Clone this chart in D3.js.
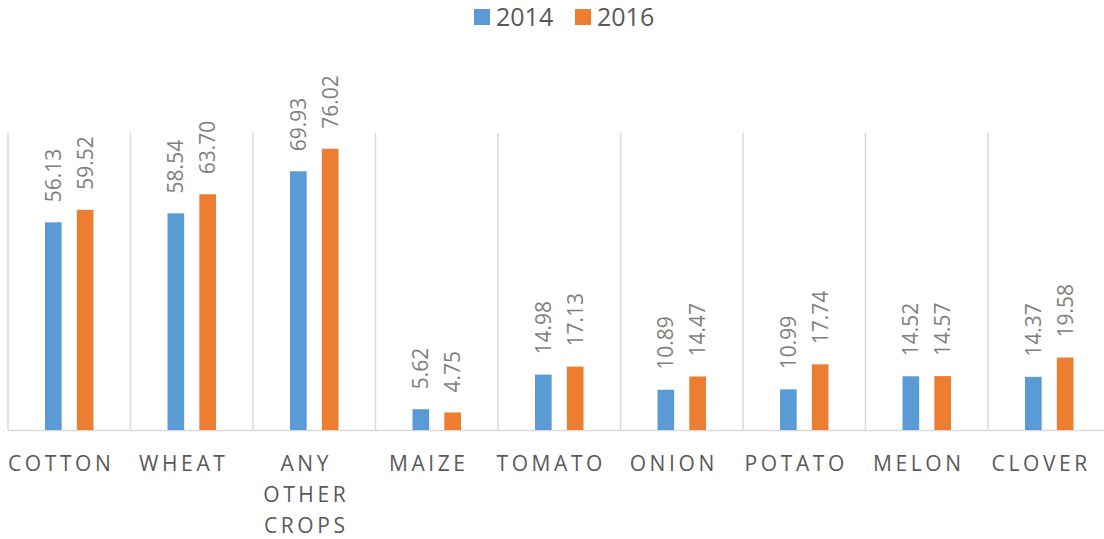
<!DOCTYPE html>
<html>
<head>
<meta charset="utf-8">
<script src="https://cdn.jsdelivr.net/npm/d3@7"></script>
<style>
  body { margin: 0; background: #fff; }
  text { font-family: "Open Sans", sans-serif; }
</style>
</head>
<body>
<div id="chart"></div>
<script>
const categories = ['COTTON', 'WHEAT', 'ANY OTHER CROPS', 'MAIZE', 'TOMATO', 'ONION', 'POTATO', 'MELON', 'CLOVER']
const seriesNames = ['2014', '2016']
const values2014 = [56.13, 58.54, 69.93, 5.62, 14.98, 10.89, 10.99, 14.52, 14.37]
const values2016 = [59.52, 63.70, 76.02, 4.75, 17.13, 14.47, 17.74, 14.57, 19.58]
const colors = ['#5b9bd5', '#ed7d31']

const width = 1104,
      height = 539,
      plotLeft = 8,
      plotRight = 1110.5,
      plotTop = 134,
      plotBottom = 430

const rows = categories.map((c, i) => ({ cat: c, vals: [values2014[i], values2016[i]] }))

const svg = d3.select('#chart')
  .append('svg')
  .attr('width', width)
  .attr('height', height)

const x0 = d3.scaleBand()
  .domain(categories)
  .range([plotLeft, plotRight])
  .padding(0)

const x1 = d3.scaleBand()
  .domain(seriesNames)
  .range([x0.bandwidth() / 2 - 24.25, x0.bandwidth() / 2 + 24.25])
  .paddingInner(0.476)

const y = d3.scaleLinear()
  .domain([0, 80])
  .range([plotBottom, plotTop])

// category separators
svg.append('g')
  .selectAll('line')
  .data(categories)
  .enter()
  .append('line')
  .attr('x1', d => x0(d))
  .attr('x2', d => x0(d))
  .attr('y1', plotTop - 1)
  .attr('y2', plotBottom)
  .attr('stroke', '#d9d9d9')
  .attr('stroke-width', 1.5)

// baseline
svg.append('line')
  .attr('x1', plotLeft)
  .attr('x2', width)
  .attr('y1', plotBottom + 0.5)
  .attr('y2', plotBottom + 0.5)
  .attr('stroke', '#d9d9d9')
  .attr('stroke-width', 1.5)

const groups = svg.selectAll('g.cat')
  .data(rows)
  .enter()
  .append('g')
  .attr('class', 'cat')
  .attr('transform', d => `translate(${x0(d.cat)},0)`)

groups.selectAll('rect')
  .data(d => d.vals.map((v, j) => ({ key: seriesNames[j], v: v, j: j })))
  .enter()
  .append('rect')
  .attr('x', d => x1(d.key))
  .attr('y', d => y(d.v))
  .attr('width', x1.bandwidth())
  .attr('height', d => plotBottom - y(d.v))
  .attr('fill', d => colors[d.j])

// value labels, rotated
groups.selectAll('text.val')
  .data(d => d.vals.map((v, j) => ({ key: seriesNames[j], v: v })))
  .enter()
  .append('text')
  .attr('class', 'val')
  .attr('transform', d => `translate(${x1(d.key) + x1.bandwidth() / 2},${y(d.v) - 20}) rotate(-90)`)
  .attr('dy', '0.36em')
  .attr('text-anchor', 'start')
  .attr('font-size', 21)
  .attr('fill', '#7f7f7f')
  .text(d => d.v.toFixed(2))

// category labels, wrapped when too wide
const catLabels = groups.append('text')
  .attr('class', 'catlabel')
  .attr('text-anchor', 'middle')
  .attr('font-size', 21)
  .attr('letter-spacing', 3.6)
  .attr('fill', '#595959')

catLabels.each(function(d) {
  const t = d3.select(this)
  const words = d.cat.split(' ')
  let lines = [d.cat]
  t.text(d.cat)
  if (this.getComputedTextLength() > x0.bandwidth()) lines = words
  t.text(null)
  lines.forEach((w, k) => {
    t.append('tspan')
      .attr('x', x0.bandwidth() / 2 - 8)
      .attr('y', 470.5 + k * 31)
      .text(w)
  })
})

// legend
const legend = svg.append('g')
  .attr('transform', 'translate(474,9)')

const legendItems = legend.selectAll('g')
  .data(seriesNames)
  .enter()
  .append('g')
  .attr('transform', (d, i) => `translate(${i * 101},0)`)

legendItems.append('rect')
  .attr('width', 16)
  .attr('height', 16)
  .attr('fill', (d, i) => colors[i])

legendItems.append('text')
  .attr('x', 22)
  .attr('y', 17)
  .attr('font-size', 25)
  .attr('fill', '#595959')
  .text(d => d)
</script>
</body>
</html>
